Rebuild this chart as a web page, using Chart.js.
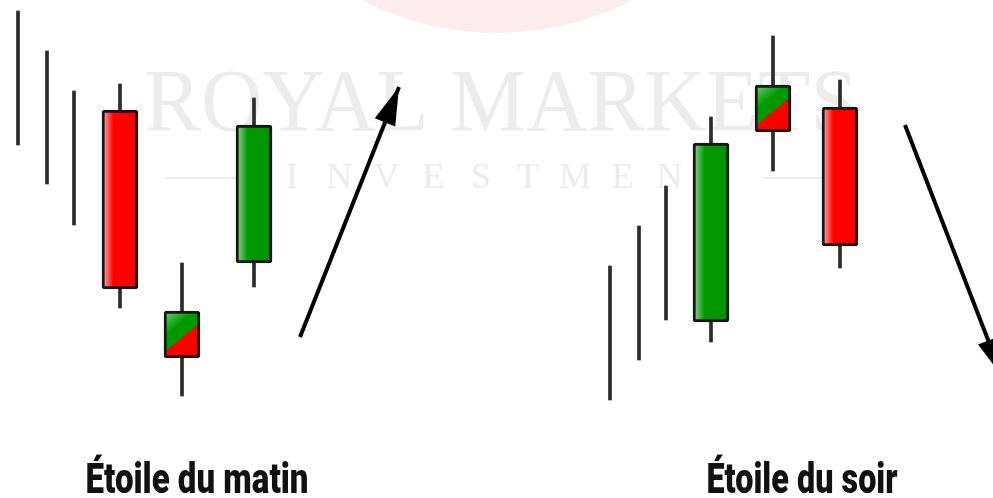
<!DOCTYPE html>
<html>
<head>
<meta charset="utf-8">
<script src="https://cdn.jsdelivr.net/npm/chart.js@4/dist/chart.umd.min.js"></script>
<style>
html, body { margin: 0; padding: 0; background: #fff; }
#wrap { width: 993px; height: 498px; position: relative; }
</style>
</head>
<body>
<div id="wrap"><canvas id="myChart"></canvas></div>
<script>
// time position (x) and price levels (y) of every stick

// morning star: falling trend, big red, star, big green
const morningTrendX = [18, 47, 74];
const morningTrendHigh = [487, 447, 407];
const morningTrendLow = [353, 314, 273];
const morningX = [120, 182, 254];
const morningOpen = [388, 140, 235];
const morningClose = [209, 187, 373];
const morningHigh = [414, 235, 400];
const morningLow = [190, 102, 211];

// evening star: rising trend, big green, star, big red
const eveningTrendX = [610, 639, 666];
const eveningTrendHigh = [232, 272, 312];
const eveningTrendLow = [98, 138, 178];
const eveningX = [711, 773, 840];
const eveningOpen = [176, 366, 391];
const eveningClose = [355, 413, 252];
const eveningHigh = [381, 462, 418];
const eveningLow = [156, 327, 230];

// the middle stick of each pattern is the star
const starIndex = 1;

// arrows after each pattern
const arrowUpX = [300, 399];
const arrowUpY = [161, 411];
const arrowDownX = [905, 1002];
const arrowDownY = [373, 122];

// texts
const patternNames = ['Étoile du matin', 'Étoile du soir'];
const patternLabelX = [197, 802];
const watermarkTitle = 'ROYAL MARKETS';
const watermarkSub = 'INVESTMENT';

// build bar data from the arrays
const trendBars = [];
morningTrendX.forEach((x, i) => trendBars.push({ x: x, y: [morningTrendLow[i], morningTrendHigh[i]] }));
eveningTrendX.forEach((x, i) => trendBars.push({ x: x, y: [eveningTrendLow[i], eveningTrendHigh[i]] }));

const wickBars = [];
const bodyBars = [];
function addCandles(xs, opens, closes, highs, lows) {
    xs.forEach((x, i) => {
        wickBars.push({ x: x, y: [lows[i], highs[i]] });
        let kind = closes[i] > opens[i] ? 'bull' : 'bear';
        if (i === starIndex) kind = 'star';
        bodyBars.push({ x: x, y: [opens[i], closes[i]], kind: kind });
    });
}
addCandles(morningX, morningOpen, morningClose, morningHigh, morningLow);
addCandles(eveningX, eveningOpen, eveningClose, eveningHigh, eveningLow);

const BODY_W = 36;

// glossy fill for each body, star bodies split on a diagonal
function bodyFill(context) {
    const chart = context.chart;
    const raw = context.raw;
    const plain = raw && raw.kind === 'bull' ? '#009a00' : '#ff0000';
    if (!raw || !chart.scales || !chart.scales.x || !chart.scales.y) return plain;
    const ctx = chart.ctx;
    const cx = chart.scales.x.getPixelForValue(raw.x);
    const top = chart.scales.y.getPixelForValue(Math.max(raw.y[0], raw.y[1]));
    const bot = chart.scales.y.getPixelForValue(Math.min(raw.y[0], raw.y[1]));
    if (!isFinite(cx) || !isFinite(top) || !isFinite(bot)) return plain;
    const left = cx - BODY_W / 2;
    const right = cx + BODY_W / 2;
    if (raw.kind === 'star') {
        const h = bot - top;
        const mx = cx, my = top + 0.565 * h;
        let nx = 0.63 * h, ny = BODY_W;
        const len = Math.sqrt(nx * nx + ny * ny);
        nx /= len; ny /= len;
        const s = 30;
        const g = ctx.createLinearGradient(mx - nx * s, my - ny * s, mx + nx * s, my + ny * s);
        g.addColorStop(0, '#6ccc6c');
        g.addColorStop(0.3, '#009a00');
        g.addColorStop(0.5, '#009a00');
        g.addColorStop(0.5, '#ff0000');
        g.addColorStop(1, '#f20000');
        return g;
    }
    const g = ctx.createLinearGradient(left, 0, right, 0);
    if (raw.kind === 'bull') {
        g.addColorStop(0, '#a0dca0');
        g.addColorStop(0.1, '#6cc46c');
        g.addColorStop(0.32, '#009a00');
        g.addColorStop(1, '#009400');
    } else {
        g.addColorStop(0, '#ffc0c0');
        g.addColorStop(0.1, '#ff8080');
        g.addColorStop(0.32, '#ff0000');
        g.addColorStop(1, '#fa0000');
    }
    return g;
}

function fitText(ctx, text, cx, y, width) {
    const w = ctx.measureText(text).width;
    ctx.save();
    ctx.translate(cx, y);
    ctx.scale(width / w, 1);
    ctx.fillText(text, 0, 0);
    ctx.restore();
}

// pink disc and watermark behind the sticks
const backdrop = {
    id: 'backdrop',
    beforeDatasetsDraw(chart) {
        const ctx = chart.ctx;
        ctx.save();
        ctx.fillStyle = 'rgb(253,236,237)';
        ctx.beginPath();
        ctx.arc(497, -260, 293, 0, Math.PI * 2);
        ctx.fill();

        ctx.fillStyle = '#ececec';
        ctx.textAlign = 'center';
        ctx.textBaseline = 'alphabetic';
        ctx.font = '88px "Liberation Serif"';
        fitText(ctx, watermarkTitle, 501, 130, 714);

        ctx.font = '36px "Liberation Serif"';
        const letters = watermarkSub.split('');
        letters.forEach((ch, i) => {
            ctx.fillText(ch, 292 + i * 47.2, 188);
        });
        ctx.strokeStyle = '#ececec';
        ctx.lineWidth = 2;
        ctx.beginPath();
        ctx.moveTo(165, 178); ctx.lineTo(236, 178);
        ctx.moveTo(763, 178); ctx.lineTo(838, 178);
        ctx.stroke();
        ctx.restore();
    }
};

// arrow heads and pattern names
const extras = {
    id: 'extras',
    afterDatasetsDraw(chart) {
        const ctx = chart.ctx;
        ctx.save();
        chart.data.datasets.forEach((ds, di) => {
            if (ds.type !== 'line') return;
            const pts = chart.getDatasetMeta(di).data;
            const a = pts[0], b = pts[pts.length - 1];
            const ang = Math.atan2(b.y - a.y, b.x - a.x);
            const L = 38, W = 11;
            ctx.fillStyle = '#000';
            ctx.beginPath();
            ctx.moveTo(b.x, b.y);
            ctx.lineTo(b.x - L * Math.cos(ang) + W * Math.sin(ang), b.y - L * Math.sin(ang) - W * Math.cos(ang));
            ctx.lineTo(b.x - L * Math.cos(ang) - W * Math.sin(ang), b.y - L * Math.sin(ang) + W * Math.cos(ang));
            ctx.closePath();
            ctx.fill();
        });

        ctx.fillStyle = '#111';
        ctx.textAlign = 'center';
        ctx.textBaseline = 'alphabetic';
        ctx.font = '900 42px Roboto';
        const widths = [223, 191];
        const baseY = chart.scales.y.getPixelForValue(5);
        patternNames.forEach((name, i) => {
            fitText(ctx, name, chart.scales.x.getPixelForValue(patternLabelX[i]), baseY, widths[i]);
        });
        ctx.restore();
    }
};

var ctx = document.getElementById('myChart').getContext('2d');

var chart = new Chart(ctx, {
    type: 'bar',
    data: {
        datasets: [
            {
                type: 'line',
                data: arrowUpX.map((x, i) => ({ x: x, y: arrowUpY[i] })),
                borderColor: '#000',
                borderWidth: 4,
                pointRadius: 0,
                order: 0
            },
            {
                type: 'line',
                data: arrowDownX.map((x, i) => ({ x: x, y: arrowDownY[i] })),
                borderColor: '#000',
                borderWidth: 4,
                pointRadius: 0,
                order: 0
            },
            {
                data: bodyBars,
                backgroundColor: bodyFill,
                borderColor: '#161616',
                borderWidth: 3,
                borderRadius: 3,
                borderSkipped: false,
                barThickness: BODY_W,
                grouped: false,
                order: 1
            },
            {
                data: wickBars,
                backgroundColor: '#2b2b2b',
                borderWidth: 0,
                barThickness: 3,
                grouped: false,
                order: 2
            },
            {
                data: trendBars,
                backgroundColor: '#2b2b2b',
                borderWidth: 0,
                barThickness: 3,
                grouped: false,
                order: 2
            }
        ]
    },
    options: {
        responsive: true,
        maintainAspectRatio: false,
        animation: false,
        events: [],
        layout: { padding: 0 },
        plugins: { legend: { display: false }, tooltip: { enabled: false } },
        scales: {
            x: { type: 'linear', min: 0, max: 993, offset: false, display: false },
            y: { type: 'linear', min: 0, max: 498, display: false }
        }
    },
    plugins: [backdrop, extras]
});
</script>
</body>
</html>
